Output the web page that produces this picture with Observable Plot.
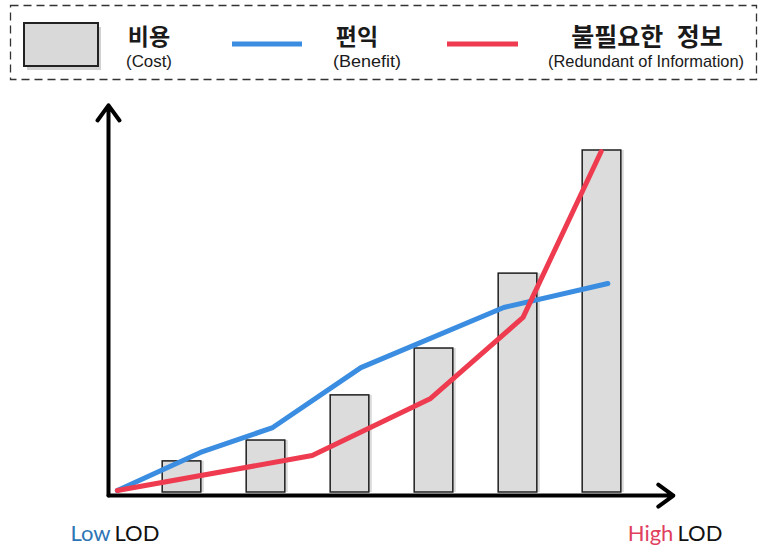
<!DOCTYPE html>
<html>
<head>
<meta charset="utf-8">
<script src="https://cdn.jsdelivr.net/npm/d3@7"></script>
<script src="https://cdn.jsdelivr.net/npm/@observablehq/plot@0.6"></script>
<style>
  html, body { margin: 0; padding: 0; background: #fff; }
  #legend, #chart, #legend svg, #chart svg { display: block; }
</style>
</head>
<body>
<div id="legend"></div>
<div id="chart"></div>
<script>
// ---- data ----
// bar categories (level of detail steps) and their cost
const levels = [1, 2, 3, 4, 5, 6];
const cost = [9.1, 15.2, 28.4, 42.1, 64.0, 100];

// benefit line (blue)
const benefitX = [0.23, 1.22, 2.08, 3.13, 4.83, 6.07];
const benefitY = [0.6, 11.7, 19.0, 36.5, 54.1, 61.1];

// redundant information line (red)
const redundantX = [0.23, 2.55, 3.96, 5.06, 5.99];
const redundantY = [0.6, 10.8, 27.5, 51.2, 99.7];

// axis ends (arrows)
const axisOrigin = [0.125, -0.9];
const axisXEnd = 6.85;
const axisYEnd = 113.2;

// axis end labels
const endLabelText = ["Low", "LOD", "High", "LOD"];
const endLabelX = [0.149, 0.196, 6.85, 6.899];
const endLabelAnchor = ["end", "start", "end", "start"];
const endLabelColor = ["#2e75b6", "#111111", "#e0405e", "#111111"];
const endLabelY = -12;

// legend texts
const legendKo = ["비용", "편익", "불필요한 정보"];
const legendEn = ["(Cost)", "(Benefit)", "(Redundant of Information)"];

const blue = "#3a8de0";
const red = "#ee3b4f";

// ---- legend (above the chart) ----
const lg = d3.select("#legend").append("svg")
  .attr("width", 766).attr("height", 90);
lg.append("rect").attr("x", 10.5).attr("y", 5.5).attr("width", 746).attr("height", 74)
  .attr("fill", "none").attr("stroke", "#333").attr("stroke-width", 1.3)
  .attr("stroke-dasharray", "8 5");
lg.append("rect").attr("x", 27).attr("y", 27).attr("width", 74).attr("height", 43)
  .attr("fill", "#999").attr("opacity", 0.45);
lg.append("rect").attr("x", 24).attr("y", 23).attr("width", 74).attr("height", 43)
  .attr("fill", "#d9d9d9").attr("stroke", "#222").attr("stroke-width", 2);
lg.append("line").attr("x1", 232).attr("x2", 302).attr("y1", 44).attr("y2", 44)
  .attr("stroke", blue).attr("stroke-width", 5);
lg.append("line").attr("x1", 447).attr("x2", 518).attr("y1", 44).attr("y2", 44)
  .attr("stroke", red).attr("stroke-width", 5);

const koPos = [[149, 45, 23], [357, 45, 23], [647, 46, 25]];
const enPos = [[149, 67, 46], [367, 67, 68], [646, 67, 196]];
legendKo.forEach((t, i) => {
  const [x, y, fs] = koPos[i];
  lg.append("text").attr("x", x).attr("y", y).attr("text-anchor", "middle")
    .attr("font-family", "'Noto Sans CJK KR', sans-serif").attr("font-weight", 700)
    .attr("font-size", fs).attr("fill", "#1a1a1a")
    .attr("word-spacing", i === 2 ? 8 : 0).text(t);
});
legendEn.forEach((t, i) => {
  const [x, y, w] = enPos[i];
  lg.append("text").attr("x", x).attr("y", y).attr("text-anchor", "middle")
    .attr("font-family", "'Liberation Sans Narrow', 'Liberation Sans', sans-serif")
    .attr("font-size", 17).attr("fill", "#1a1a1a")
    .attr("textLength", w).attr("lengthAdjust", "spacingAndGlyphs").text(t);
});

// ---- chart ----
const bars = levels.map((l, i) => ({level: l, cost: cost[i]}));
const benefit = benefitX.map((x, i) => ({x, y: benefitY[i]}));
const redundant = redundantX.map((x, i) => ({x, y: redundantY[i]}));
const endLabels = endLabelText.map((t, i) => ({
  text: t, x: endLabelX[i], anchor: endLabelAnchor[i], color: endLabelColor[i]
}));
const halfWidth = 0.23;
const labelFont = {y: () => endLabelY, text: "text", fill: "color", fontSize: 22,
  fontFamily: "Lato, 'Open Sans', sans-serif"};

const chart = Plot.plot({
  width: 766,
  height: 460,
  x: {domain: [0, 7], range: [97.5, 685.5], axis: null},
  y: {domain: [0, 100], range: [402, 60], axis: null},
  marks: [
    // soft shadow of the bars
    Plot.rect(bars, {x1: d => d.level - halfWidth, x2: d => d.level + halfWidth, y1: 0, y2: "cost",
      fill: "#bdbdbd", fillOpacity: 0.55, dx: 3}),
    Plot.rect(bars, {x1: d => d.level - halfWidth, x2: d => d.level + halfWidth, y1: 0, y2: "cost",
      fill: "#dcdcdc", stroke: "#1e1e1e", strokeWidth: 1.5}),
    Plot.line(benefit, {x: "x", y: "y", stroke: blue, strokeWidth: 5, strokeLinejoin: "round", strokeLinecap: "round"}),
    Plot.line(redundant, {x: "x", y: "y", stroke: red, strokeWidth: 5, strokeLinejoin: "round", strokeLinecap: "round"}),
    // axes drawn as arrows
    Plot.arrow([{x1: axisOrigin[0], y1: axisOrigin[1], x2: axisXEnd, y2: axisOrigin[1]},
                {x1: axisOrigin[0], y1: axisOrigin[1], x2: axisOrigin[0], y2: axisYEnd}],
      {x1: "x1", y1: "y1", x2: "x2", y2: "y2", stroke: "#000", strokeWidth: 4,
       headLength: 7, headAngle: 72}),
    Plot.text(endLabels.filter(d => d.anchor === "end"), {...labelFont, x: "x", textAnchor: "end"}),
    Plot.text(endLabels.filter(d => d.anchor === "start"), {...labelFont, x: "x", textAnchor: "start"})
  ]
});
document.getElementById("chart").appendChild(chart);
</script>
</body>
</html>
